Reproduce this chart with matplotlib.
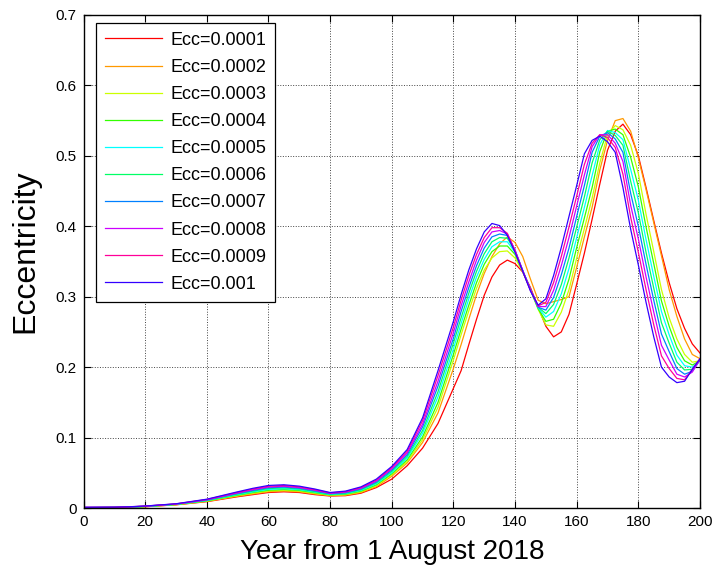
import matplotlib
matplotlib.use("Agg")
import matplotlib.pyplot as plt

plt.rcParams['font.family'] = ['Liberation Sans', 'DejaVu Sans']

years = [0, 10, 15, 20, 30, 40, 50, 55, 60, 65, 70, 75, 80, 85, 90, 95,
         100, 105, 110, 115,
         120, 122.5, 125, 127.5, 130, 132.5, 135, 137.5, 140, 142.5, 145, 147.5,
         150, 152.5, 155, 157.5, 160, 162.5, 165, 167.5, 170, 172.5, 175, 177.5,
         180, 182.5, 185, 187.5, 190, 192.5, 195, 197.5, 200]

ecc_0001 = [.0001, .0005, .0010, .0018, .0045, .0090, .0160, .0190, .0220, .0230, .0220, .0190, .0170, .0175, .0210, .0290,
            .041, .060, .085, .120,
            .170, .195, .232, .268, .302, .328, .345, .352, .347, .335, .313, .285,
            .258, .243, .250, .275, .318, .362, .410, .460, .508, .535, .545, .530,
            .500, .455, .408, .362, .320, .283, .255, .233, .220]
ecc_0002 = [.0002, .0006, .0011, .0019, .0047, .0094, .0168, .0200, .0231, .0241, .0230, .0199, .0176, .0182, .0220, .0303,
            .045, .064, .093, .135,
            .198, .232, .268, .303, .333, .357, .375, .385, .377, .357, .325, .295,
            .290, .293, .296, .300, .342, .385, .427, .480, .522, .550, .553, .535,
            .497, .452, .405, .358, .310, .272, .240, .218, .212]
ecc_0003 = [.0003, .0007, .0012, .0020, .0048, .0098, .0176, .0210, .0242, .0252, .0240, .0208, .0181, .0189, .0230, .0317,
            .047, .066, .097, .143,
            .210, .246, .280, .312, .338, .355, .364, .365, .355, .335, .310, .282,
            .260, .258, .278, .310, .355, .397, .440, .490, .530, .543, .537, .515,
            .475, .417, .364, .310, .270, .240, .218, .207, .209]
ecc_0004 = [.0004, .0007, .0013, .0021, .0050, .0102, .0183, .0220, .0253, .0263, .0250, .0217, .0187, .0197, .0240, .0330,
            .0487, .0684, .101, .150,
            .218, .254, .288, .320, .346, .364, .372, .372, .360, .336, .310, .283,
            .265, .268, .291, .325, .370, .412, .455, .506, .535, .538, .530, .498,
            .456, .399, .347, .294, .258, .228, .209, .203, .209]
ecc_0005 = [.0005, .0008, .0014, .0022, .0052, .0106, .0191, .0230, .0264, .0274, .0260, .0226, .0192, .0204, .0250, .0343,
            .0504, .0709, .106, .158,
            .226, .262, .297, .328, .353, .371, .378, .378, .363, .337, .310, .284,
            .271, .279, .304, .340, .384, .427, .472, .516, .536, .533, .523, .481,
            .437, .381, .329, .279, .246, .217, .202, .200, .209]
ecc_0006 = [.0006, .0009, .0014, .0024, .0053, .0109, .0199, .0240, .0276, .0286, .0270, .0234, .0198, .0211, .0260, .0357,
            .0521, .0733, .110, .165,
            .234, .270, .305, .336, .361, .378, .384, .383, .365, .337, .310, .285,
            .276, .289, .317, .355, .399, .442, .490, .523, .535, .529, .515, .464,
            .419, .363, .312, .263, .234, .207, .196, .197, .210]
ecc_0007 = [.0007, .0010, .0015, .0025, .0055, .0113, .0207, .0250, .0287, .0297, .0280, .0243, .0203, .0218, .0270, .0370,
            .0539, .0757, .115, .173,
            .241, .279, .313, .344, .369, .385, .389, .387, .366, .337, .310, .285,
            .281, .299, .331, .369, .414, .458, .505, .528, .533, .524, .505, .447,
            .400, .346, .295, .247, .222, .198, .190, .194, .210]
ecc_0008 = [.0008, .0010, .0016, .0026, .0057, .0117, .0214, .0260, .0298, .0308, .0290, .0252, .0209, .0225, .0280, .0383,
            .0556, .0781, .119, .180,
            .249, .287, .321, .352, .377, .392, .394, .389, .366, .337, .310, .286,
            .286, .309, .344, .384, .429, .473, .513, .530, .530, .518, .492, .430,
            .382, .328, .278, .231, .210, .190, .186, .193, .211]
ecc_0009 = [.0009, .0011, .0017, .0027, .0058, .0121, .0222, .0270, .0309, .0319, .0300, .0261, .0214, .0233, .0290, .0397,
            .0573, .0806, .124, .188,
            .257, .295, .330, .360, .384, .398, .398, .390, .365, .336, .309, .287,
            .292, .320, .357, .399, .443, .488, .518, .530, .526, .512, .474, .413,
            .363, .310, .260, .216, .198, .184, .182, .197, .212]
ecc_0010 = [.0010, .0012, .0018, .0028, .0060, .0125, .0230, .0280, .0320, .0330, .0310, .0270, .0220, .0240, .0300, .0410,
            .059, .083, .128, .195,
            .265, .303, .338, .368, .392, .404, .401, .387, .363, .336, .308, .288,
            .297, .330, .370, .414, .458, .503, .522, .528, .520, .505, .455, .396,
            .345, .292, .243, .200, .186, .178, .180, .197, .212]

labels = ['Ecc=0.0001', 'Ecc=0.0002', 'Ecc=0.0003', 'Ecc=0.0004', 'Ecc=0.0005',
          'Ecc=0.0006', 'Ecc=0.0007', 'Ecc=0.0008', 'Ecc=0.0009', 'Ecc=0.001']
series = [ecc_0001, ecc_0002, ecc_0003, ecc_0004, ecc_0005,
          ecc_0006, ecc_0007, ecc_0008, ecc_0009, ecc_0010]
colors = ['#FF0000', '#FF9900', '#CCFF00', '#33FF00', '#00FFFF',
          '#00FF66', '#0080FF', '#CC00FF', '#FF0099', '#3300FF']

xticks = [0, 20, 40, 60, 80, 100, 120, 140, 160, 180, 200]
yticks = [0, 0.1, 0.2, 0.3, 0.4, 0.5, 0.6, 0.7]
ytick_labels = ['0', '0.1', '0.2', '0.3', '0.4', '0.5', '0.6', '0.7']

fig = plt.figure(figsize=(7.16, 5.70), dpi=100)
ax = fig.add_axes([83.5 / 716, 62 / 570, 616.5 / 716, 493 / 570])

for y, lab, c in zip(series, labels, colors):
    ax.plot(years, y, color=c, lw=0.9, label=lab)

ax.set_xlim(0, 200)
ax.set_ylim(0, 0.7)
ax.set_xticks(xticks)
ax.set_yticks(yticks)
ax.set_yticklabels(ytick_labels)
ax.tick_params(direction='in', top=True, right=True, length=5, width=0.8,
               labelsize=11, pad=5)
ax.grid(True, linestyle=':', color='#444444', linewidth=0.7)
for s in ax.spines.values():
    s.set_linewidth(1.0)
    s.set_color('black')

ax.set_xlabel('Year from 1 August 2018', fontsize=20, labelpad=7)
ax.set_ylabel('Eccentricity', fontsize=23)
ax.yaxis.set_label_coords(-43 / 616.5, 0.52)

leg = ax.legend(loc='upper left', bbox_to_anchor=(12.5 / 616.5, 1 - 7.7 / 493),
                borderaxespad=0, fontsize=13, handlelength=3.15, handletextpad=0.45,
                labelspacing=0.56, borderpad=0.5, fancybox=False, framealpha=1,
                edgecolor='black')
leg.get_frame().set_linewidth(0.9)

fig.savefig('out.png', dpi=100)
